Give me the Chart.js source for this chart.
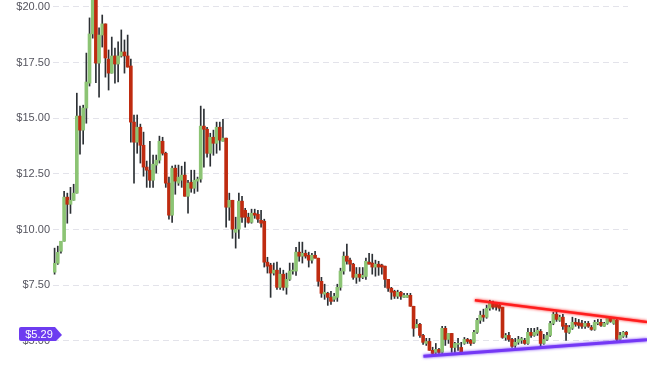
<!DOCTYPE html>
<html>
<head>
<meta charset="utf-8">
<script src="https://cdn.jsdelivr.net/npm/chart.js@4.4.1/dist/chart.umd.min.js"></script>
<style>
  html, body { margin: 0; padding: 0; background: #ffffff; }
  #wrap { width: 647px; height: 366px; position: relative; }
</style>
</head>
<body>
<div id="wrap"><canvas id="priceChart"></canvas></div>
<script>
// daily OHLC
const opens = [
  8.09, 8.49, 9.03, 9.48, 11.46, 11.14, 11.32, 11.64, 15.10, 14.47,
  15.46, 16.58, 18.79, 20.50, 17.48, 18.74, 19.24, 17.66, 17.03, 17.80,
  17.44, 17.80, 17.98, 17.80, 17.35, 14.83, 13.93, 14.60, 13.79, 12.81,
  12.67, 12.22, 12.90, 13.12, 13.97, 13.43, 12.09, 10.65, 12.76, 12.09,
  12.22, 12.45, 11.50, 12.13, 11.86, 12.18, 12.27, 14.65, 14.51, 13.43,
  14.15, 13.88, 14.60, 13.97, 14.11, 11.01, 11.32, 9.88, 10.02, 11.28,
  10.87, 10.56, 10.33, 10.74, 10.69, 10.42, 10.38, 8.54, 8.41, 8.05,
  8.18, 7.41, 8.00, 7.41, 7.77, 8.14, 8.14, 8.99, 8.81, 8.94,
  8.85, 8.63, 8.85, 8.72, 7.68, 7.10, 7.14, 6.96, 6.87, 6.96,
  7.41, 8.14, 8.81, 8.63, 8.45, 7.86, 8.00, 7.86, 7.90, 8.54,
  8.50, 8.32, 8.45, 8.41, 8.36, 7.77, 7.37, 7.23, 7.01, 7.19,
  6.96, 6.96, 7.05, 6.56, 5.61, 5.75, 5.25, 4.89, 4.98, 4.58,
  4.49, 4.62, 4.49, 5.57, 5.07, 5.34, 4.71, 4.85, 4.71, 4.89,
  5.07, 5.03, 4.94, 5.39, 5.93, 6.16, 6.07, 6.47, 6.70, 6.65,
  6.61, 6.52, 5.16, 5.25, 5.07, 4.80, 4.94, 5.03, 5.03, 4.89,
  5.39, 5.25, 5.34, 5.43, 4.89, 5.07, 5.25, 5.79, 6.20, 5.93,
  6.07, 5.70, 5.39, 5.57, 5.84, 5.82, 5.79, 5.66, 5.79, 5.61,
  5.52, 5.79, 5.84, 5.66, 5.79, 6.02, 5.79, 5.93, 5.07, 5.21, 5.39
];
const highs = [
  9.17, 9.26, 9.48, 11.72, 11.64, 11.90, 12.04, 16.13, 15.55, 15.59,
  17.93, 19.51, 20.90, 20.90, 19.06, 19.64, 19.24, 18.07, 18.65, 18.16,
  18.43, 18.97, 18.52, 18.74, 17.66, 15.15, 15.15, 14.74, 14.38, 13.08,
  13.97, 13.35, 13.35, 14.20, 14.15, 13.48, 12.36, 12.85, 12.90, 12.90,
  12.85, 13.03, 12.22, 12.67, 12.67, 12.36, 15.55, 15.42, 14.60, 14.33,
  14.47, 14.83, 14.83, 14.96, 14.11, 11.64, 11.32, 10.56, 11.64, 11.50,
  10.96, 10.74, 10.92, 10.92, 10.87, 10.87, 10.47, 8.76, 8.49, 8.50,
  8.54, 8.27, 8.18, 8.05, 8.50, 8.50, 9.21, 9.44, 9.44, 9.08,
  8.99, 8.94, 9.03, 8.72, 7.86, 7.55, 7.19, 7.23, 7.14, 7.55,
  8.27, 9.00, 9.35, 8.72, 8.49, 8.30, 8.30, 8.30, 8.72, 8.94,
  8.90, 8.63, 8.58, 8.45, 8.36, 7.77, 7.41, 7.28, 7.28, 7.23,
  7.14, 7.14, 7.14, 6.56, 5.97, 5.79, 5.30, 5.12, 5.12, 4.72,
  4.89, 4.67, 5.66, 5.66, 5.34, 5.34, 4.94, 5.12, 4.94, 5.16,
  5.12, 5.07, 5.48, 6.02, 6.34, 6.43, 6.61, 6.83, 6.79, 6.74,
  6.70, 6.52, 5.34, 5.39, 5.12, 5.12, 5.21, 5.16, 5.12, 5.57,
  5.57, 5.57, 5.61, 5.52, 5.30, 5.39, 5.88, 6.29, 6.34, 6.16,
  6.20, 5.79, 5.70, 6.07, 6.02, 5.97, 5.93, 5.88, 5.88, 5.70,
  5.93, 5.97, 5.97, 5.84, 6.07, 6.07, 6.02, 5.97, 5.39, 5.43, 5.43
];
const lows = [
  8.00, 8.44, 8.94, 9.48, 10.29, 10.73, 11.32, 11.64, 13.39, 13.84,
  14.78, 16.45, 18.60, 16.60, 15.95, 18.20, 16.85, 16.27, 17.03, 16.58,
  16.63, 17.75, 17.03, 17.30, 13.93, 12.09, 13.43, 12.99, 12.40, 11.90,
  11.90, 11.90, 12.54, 12.99, 13.35, 11.90, 10.47, 10.33, 11.59, 11.99,
  11.90, 11.50, 10.74, 11.68, 11.63, 11.72, 12.13, 12.81, 13.25, 12.85,
  13.34, 13.43, 13.57, 13.97, 10.11, 10.42, 9.61, 9.17, 9.61, 10.33,
  10.11, 10.29, 10.29, 10.51, 10.33, 10.11, 8.32, 8.05, 6.96, 7.96,
  7.32, 7.32, 7.28, 7.10, 7.72, 8.00, 7.95, 8.58, 8.50, 8.72,
  8.32, 8.50, 8.72, 7.46, 6.96, 6.87, 6.60, 6.64, 6.78, 6.78,
  7.28, 8.00, 8.45, 8.14, 7.77, 7.59, 7.68, 7.80, 7.77, 8.45,
  8.00, 7.91, 7.95, 8.00, 7.41, 7.23, 6.87, 6.91, 6.91, 6.87,
  6.96, 6.96, 6.56, 5.21, 5.61, 5.16, 4.85, 4.80, 4.58, 4.35,
  4.44, 4.44, 4.44, 4.80, 4.89, 4.49, 4.49, 4.58, 4.40, 4.85,
  4.89, 4.80, 4.89, 5.34, 5.79, 5.88, 6.02, 6.38, 6.43, 6.38,
  6.34, 5.12, 5.03, 4.98, 4.71, 4.71, 4.85, 4.89, 4.85, 4.85,
  5.16, 5.21, 5.25, 4.71, 4.85, 5.03, 5.21, 5.73, 5.88, 5.88,
  5.52, 5.03, 5.34, 5.52, 5.66, 5.57, 5.57, 5.57, 5.61, 5.48,
  5.48, 5.73, 5.66, 5.66, 5.75, 5.84, 5.75, 4.98, 5.03, 5.16, 5.16
];
const closes = [
  8.49, 8.98, 9.48, 11.46, 11.14, 11.32, 11.64, 15.10, 14.47, 15.46,
  16.63, 18.79, 20.50, 17.48, 18.74, 19.24, 17.71, 17.03, 17.80, 17.44,
  17.80, 17.98, 17.80, 17.30, 14.83, 13.93, 14.60, 13.79, 12.81, 12.67,
  12.22, 12.94, 13.12, 13.97, 13.43, 12.09, 10.65, 12.76, 12.18, 12.36,
  12.45, 11.50, 12.09, 11.86, 12.22, 12.27, 14.65, 14.51, 13.43, 14.15,
  13.88, 14.60, 14.02, 14.11, 11.01, 11.32, 10.02, 10.02, 11.28, 10.56,
  10.56, 10.33, 10.74, 10.65, 10.47, 10.29, 8.54, 8.36, 8.05, 8.18,
  7.41, 8.00, 7.41, 7.77, 8.14, 8.18, 8.99, 8.81, 8.94, 8.81,
  8.63, 8.85, 8.72, 7.68, 7.14, 7.19, 6.96, 6.78, 7.01, 7.41,
  8.14, 8.81, 8.58, 8.45, 7.86, 8.00, 7.86, 7.95, 8.58, 8.45,
  8.32, 8.45, 8.32, 8.32, 7.77, 7.37, 7.19, 7.01, 7.19, 7.01,
  7.05, 7.05, 6.56, 5.57, 5.75, 5.25, 4.94, 4.98, 4.58, 4.44,
  4.62, 4.49, 5.57, 5.07, 5.34, 4.71, 4.89, 4.89, 4.49, 5.07,
  4.98, 4.89, 5.39, 5.93, 6.16, 6.07, 6.47, 6.70, 6.52, 6.52,
  6.47, 5.16, 5.25, 5.07, 4.76, 4.94, 5.07, 5.10, 4.89, 5.39,
  5.25, 5.39, 5.48, 4.89, 5.07, 5.25, 5.79, 6.20, 5.97, 6.07,
  5.66, 5.39, 5.61, 5.84, 5.75, 5.70, 5.66, 5.79, 5.66, 5.52,
  5.84, 5.84, 5.70, 5.79, 6.02, 5.88, 5.97, 5.07, 5.25, 5.39, 5.29
];

// y axis tick values
const tickValues = [5, 7.5, 10, 12.5, 15, 17.5, 20];

// trend lines (x in candle index units, y in price)
const resistanceX = [132.3, 186.5];
const resistanceY = [6.83, 5.85];
const supportX = [116.1, 186.5];
const supportY = [4.31, 5.06];

const upColor = '#8cc474';
const downColor = '#bf2b10';
const wickColor = '#2c3034';

const lastPrice = closes[closes.length - 1];

// build chart data from the arrays above
const bodies = opens.map((o, i) => ({ x: i, y: [o, closes[i]] }));
const wicks = lows.map((l, i) => ({ x: i, y: [l, highs[i]] }));
const bodyColors = opens.map((o, i) => closes[i] >= o ? upColor : downColor);

// small glow under the trend lines
const glowPlugin = {
  id: 'glow',
  beforeDatasetDraw(chart, args) {
    const ds = chart.data.datasets[args.index];
    if (ds.type !== 'line') return;
    chart.ctx.save();
    chart.ctx.shadowColor = ds.borderColor;
    chart.ctx.shadowBlur = 3;
  },
  afterDatasetDraw(chart, args) {
    const ds = chart.data.datasets[args.index];
    if (ds.type !== 'line') return;
    chart.ctx.restore();
  }
};

// last price tag on the left
const priceTag = {
  id: 'priceTag',
  afterDraw(chart) {
    const ctx = chart.ctx;
    const yc = Math.round(chart.scales.y.getPixelForValue(lastPrice));
    ctx.save();
    ctx.fillStyle = '#6d3cf0';
    ctx.beginPath();
    ctx.moveTo(21, yc - 8);
    ctx.lineTo(55, yc - 8);
    ctx.lineTo(62, yc);
    ctx.lineTo(56, yc + 6);
    ctx.lineTo(21, yc + 6);
    ctx.quadraticCurveTo(19, yc + 6, 19, yc + 4);
    ctx.lineTo(19, yc - 6);
    ctx.quadraticCurveTo(19, yc - 8, 21, yc - 8);
    ctx.closePath();
    ctx.fill();
    ctx.fillStyle = '#ffffff';
    ctx.font = '11px "Liberation Sans", Arial, sans-serif';
    ctx.textAlign = 'center';
    ctx.textBaseline = 'middle';
    ctx.fillText('$' + lastPrice.toFixed(2), 39, yc);
    ctx.restore();
  }
};

const ctx = document.getElementById('priceChart').getContext('2d');
new Chart(ctx, {
  type: 'bar',
  data: {
    datasets: [
      {
        type: 'line',
        data: resistanceX.map((x, i) => ({ x: x, y: resistanceY[i] })),
        borderColor: '#ff1e1e',
        borderWidth: 2.5,
        pointRadius: 0,
        clip: false,
        order: 0
      },
      {
        type: 'line',
        data: supportX.map((x, i) => ({ x: x, y: supportY[i] })),
        borderColor: '#7438f5',
        borderWidth: 3,
        pointRadius: 0,
        clip: false,
        order: 0
      },
      {
        data: bodies,
        backgroundColor: bodyColors,
        barThickness: 3,
        minBarLength: 1,
        grouped: false,
        order: 1
      },
      {
        data: wicks,
        backgroundColor: wickColor,
        barThickness: 1,
        grouped: false,
        order: 2
      }
    ]
  },
  options: {
    responsive: true,
    maintainAspectRatio: false,
    animation: false,
    layout: { padding: { left: 0, right: 19, top: 0, bottom: 0 } },
    plugins: {
      legend: { display: false },
      tooltip: { enabled: false }
    },
    scales: {
      x: {
        type: 'linear',
        min: -0.5,
        max: 180.5,
        offset: false,
        display: false
      },
      y: {
        min: 3.877,
        max: 20.314,
        afterBuildTicks: scale => { scale.ticks = tickValues.map(v => ({ value: v })); },
        afterFit: scale => {
          scale.width = 53;
          scale.paddingTop = 0;
          scale.paddingBottom = 0;
        },
        grid: { color: '#e3e3ea', lineWidth: 1, drawTicks: false },
        border: { display: false, dash: [6, 4] },
        ticks: {
          padding: 3,
          color: '#55555f',
          font: { family: '"Liberation Sans", Arial, sans-serif', size: 11 },
          callback: v => '$' + v.toFixed(2)
        }
      }
    }
  },
  plugins: [glowPlugin, priceTag]
});
</script>
</body>
</html>
